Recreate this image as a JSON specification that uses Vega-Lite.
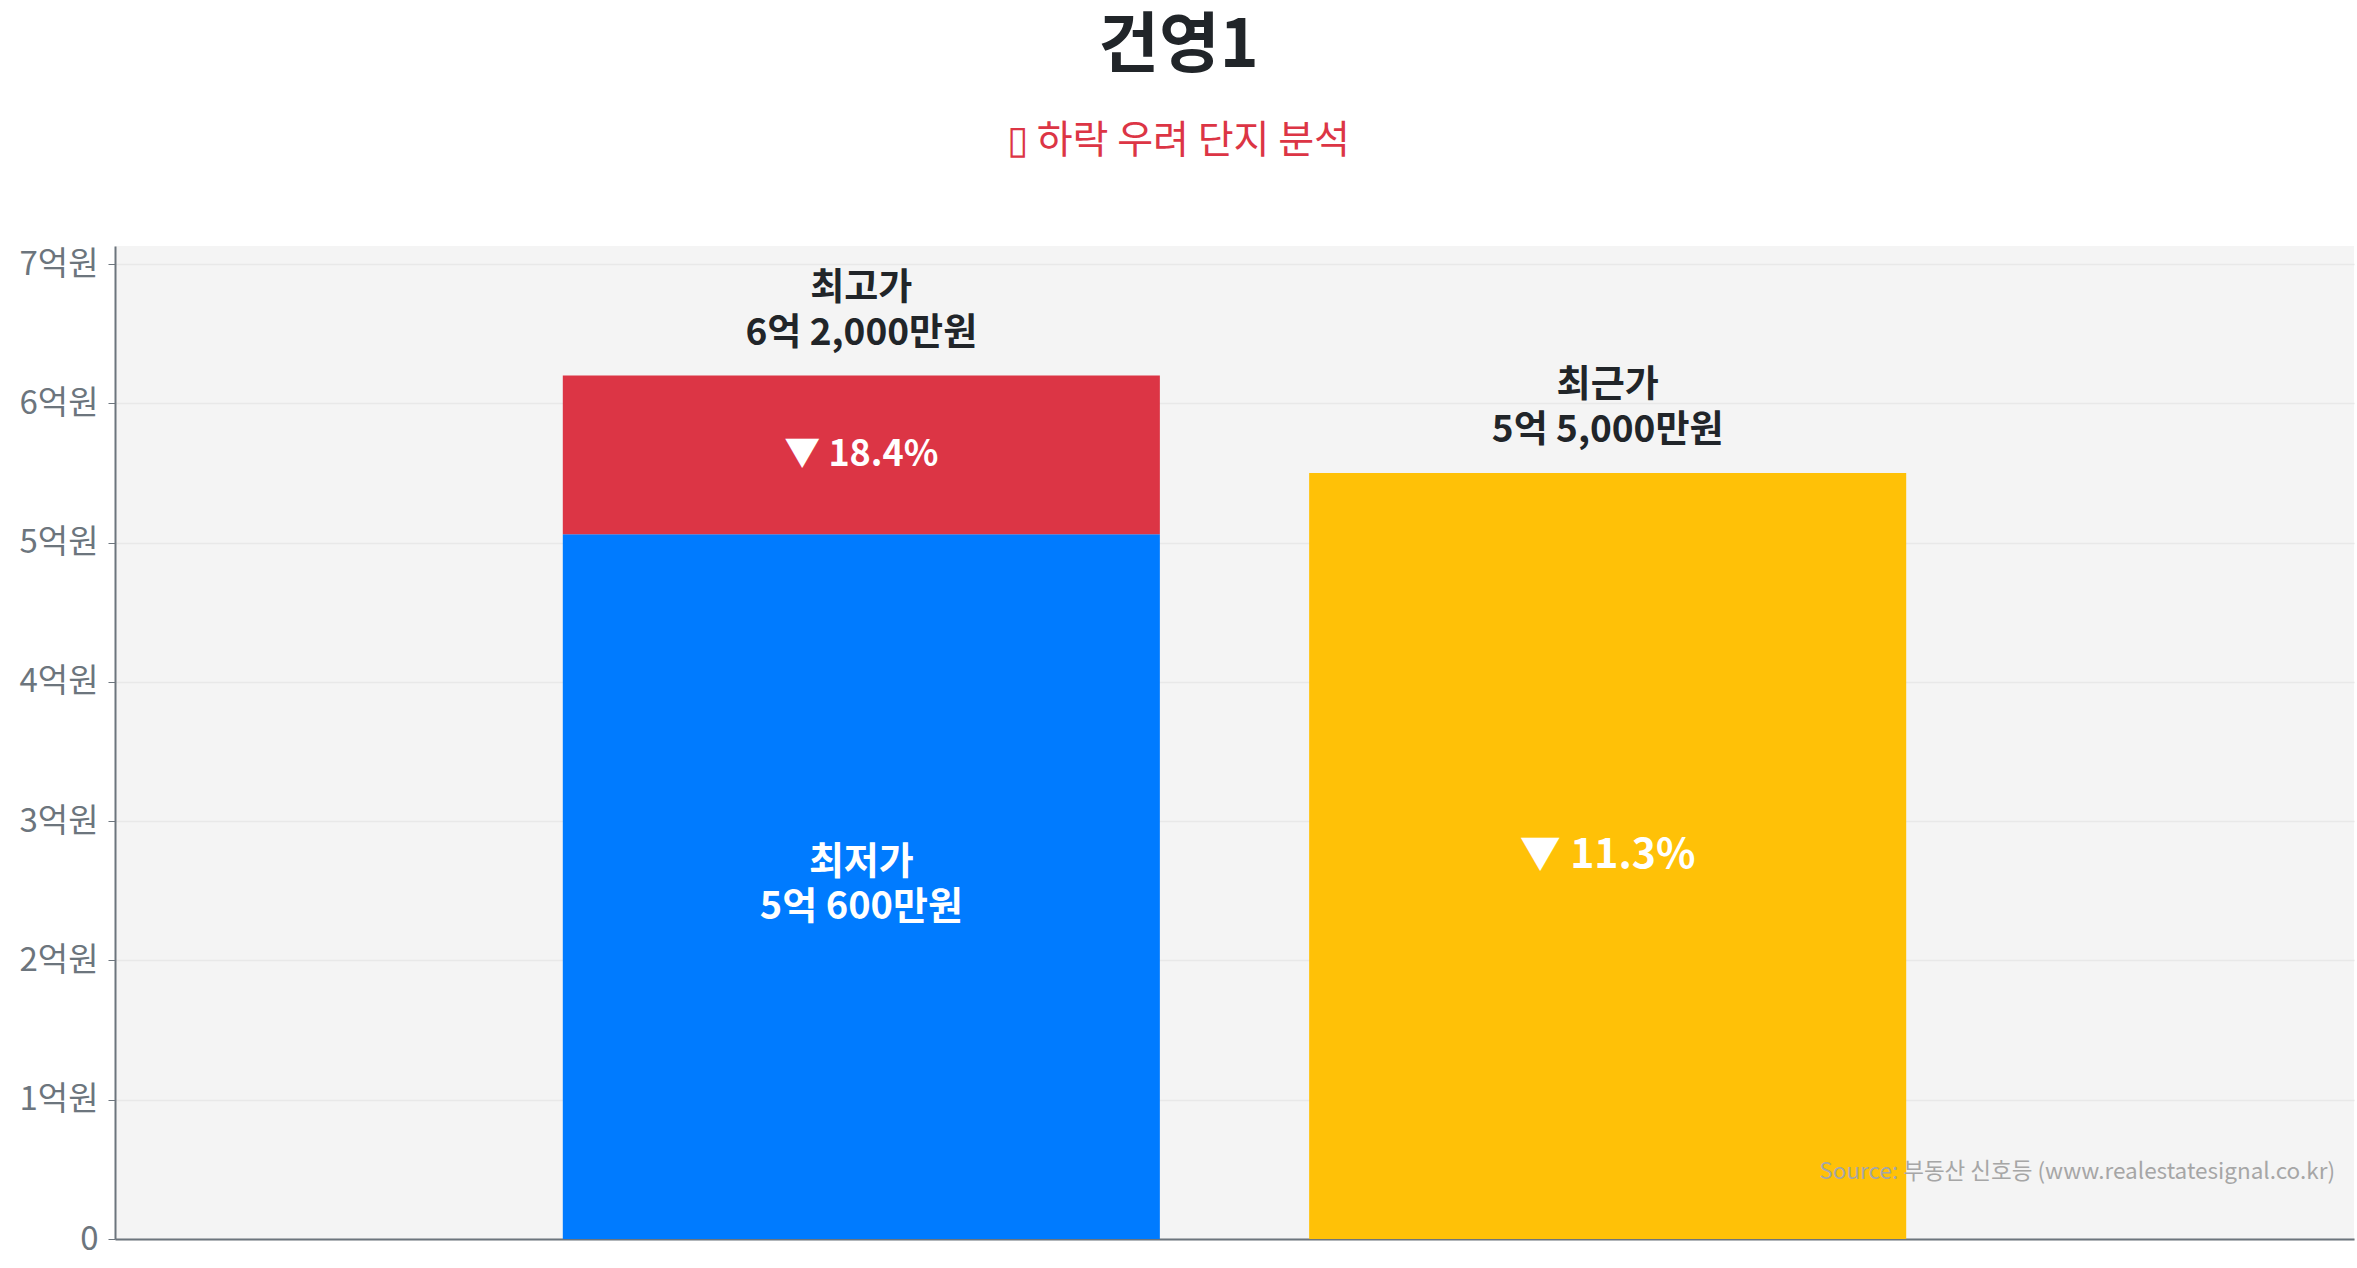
{
  "$schema": "https://vega.github.io/schema/vega-lite/v6.json",
  "width": 2239,
  "height": 993,
  "autosize": {"type": "none"},
  "padding": {"left": 115, "top": 246, "right": 3, "bottom": 29},
  "title": {
    "text": "건영1",
    "subtitle": "▯ 하락 우려 단지 분석",
    "anchor": "middle",
    "frame": "bounds",
    "font": "Noto Sans CJK KR",
    "fontSize": 66,
    "fontWeight": "bold",
    "color": "#212529",
    "subtitleFont": "Noto Sans CJK KR",
    "subtitleFontSize": 39,
    "subtitleColor": "#dc3545",
    "subtitlePadding": 41,
    "offset": 84,
    "dx": -8
  },
  "config": {
    "font": "Noto Sans CJK KR",
    "view": {"fill": "#f4f4f4", "stroke": null},
    "axis": {
      "domainColor": "#6c757d",
      "domainWidth": 2,
      "tickColor": "#6c757d",
      "tickSize": 7,
      "labelColor": "#6c757d",
      "labelFont": "Noto Sans CJK KR",
      "labelFontSize": 33,
      "labelPadding": 10,
      "gridColor": "#e8e8e8",
      "gridWidth": 1.5
    }
  },
  "datasets": {
    "segments": [
      {"bar": "최고/최저", "seg": "최저가", "amount": 50600, "label": "최저가\n5억 600만원"},
      {"bar": "최고/최저", "seg": "하락폭", "amount": 11400, "label": "▼ 18.4%"},
      {"bar": "최근", "seg": "최근가", "amount": 55000, "label": "▼ 11.3%"}
    ],
    "tops": [
      {"bar": "최고/최저", "value": 62000, "label": "최고가\n6억 2,000만원"},
      {"bar": "최근", "value": 55000, "label": "최근가\n5억 5,000만원"}
    ],
    "notes": [
      {"note": "Source: 부동산 신호등 (www.realestatesignal.co.kr)", "at": 4800}
    ]
  },
  "layer": [
    {
      "data": {"name": "segments"},
      "mark": {"type": "bar"},
      "encoding": {
        "x": {
          "field": "bar",
          "type": "nominal",
          "scale": {"domain": ["최고/최저", "최근"], "paddingInner": 0.2, "paddingOuter": 0.6},
          "axis": {"labels": false, "ticks": false, "grid": false, "title": null}
        },
        "y": {
          "field": "amount",
          "type": "quantitative",
          "stack": "zero",
          "scale": {"domain": [0, 71300], "nice": false},
          "axis": {
            "title": null,
            "values": [0, 10000, 20000, 30000, 40000, 50000, 60000, 70000],
            "labelExpr": "datum.value === 0 ? '0' : (datum.value / 10000) + '억원'"
          }
        },
        "color": {
          "field": "seg",
          "type": "nominal",
          "scale": {"domain": ["최저가", "하락폭", "최근가"], "range": ["#007bff", "#dc3545", "#ffc107"]},
          "legend": null
        },
        "order": {"field": "seg"}
      }
    },
    {
      "data": {"name": "segments"},
      "mark": {
        "type": "text",
        "color": "#ffffff",
        "fontWeight": "bold",
        "lineBreak": "\n",
        "lineHeight": 45,
        "baseline": "middle",
        "dy": {"expr": "datum.seg === '최저가' ? -24 : 0"}
      },
      "encoding": {
        "x": {"field": "bar", "type": "nominal"},
        "y": {"field": "amount", "type": "quantitative", "stack": "zero", "bandPosition": 0.5},
        "detail": {"field": "seg"},
        "order": {"field": "seg"},
        "text": {"field": "label"},
        "size": {
          "condition": [
            {"test": "datum.seg === '최근가'", "value": 41},
            {"test": "datum.seg === '최저가'", "value": 38}
          ],
          "value": 36
        }
      }
    },
    {
      "data": {"name": "tops"},
      "mark": {"type": "text", "color": "#212529", "fontWeight": "bold", "fontSize": 37, "lineBreak": "\n", "lineHeight": 45, "baseline": "bottom", "dy": -68},
      "encoding": {
        "x": {"field": "bar", "type": "nominal"},
        "y": {"field": "value", "type": "quantitative"},
        "text": {"field": "label"}
      }
    },
    {
      "data": {"name": "notes"},
      "mark": {"type": "text", "color": "#a6a6a6", "fontSize": 22.5, "align": "right", "baseline": "middle", "x": {"expr": "width - 19"}},
      "encoding": {
        "y": {"field": "at", "type": "quantitative"},
        "text": {"field": "note"}
      }
    }
  ]
}
